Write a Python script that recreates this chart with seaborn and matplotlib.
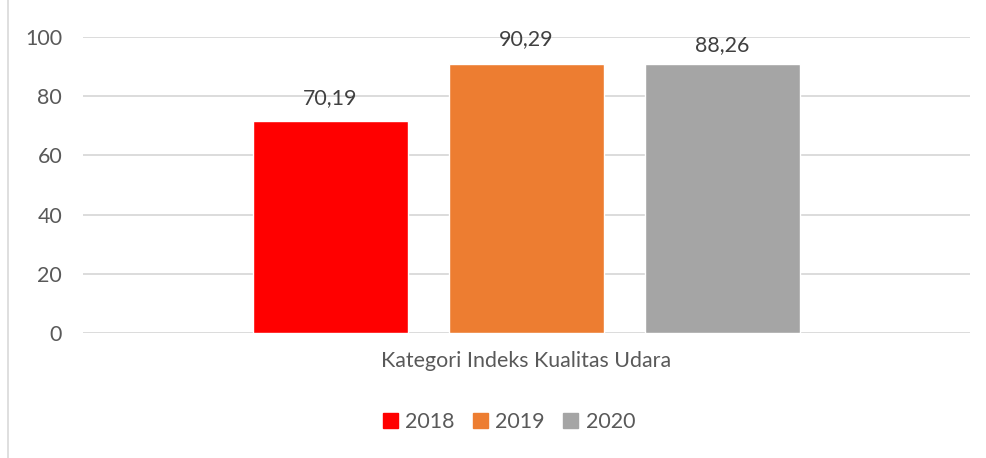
import matplotlib
matplotlib.use("Agg")
import matplotlib.pyplot as plt
import seaborn as sns
import pandas as pd
from matplotlib.lines import Line2D

# Data
years = ["2018", "2019", "2020"]
values = [70.19, 90.29, 88.26]          # labelled values
bar_heights = [71.5, 91.0, 91.0]        # heights as drawn in the reference
colors = ["#ff0000", "#ed7d31", "#a5a5a5"]
category = "Kategori Indeks Kualitas Udara"
yticks = [0, 20, 40, 60, 80, 100]

sns.set_theme(style="white")
plt.rcParams["font.family"] = ["Lato", "DejaVu Sans"]
FS = 15.4

fig = plt.figure(figsize=(9.86, 4.58), dpi=100)
ax = fig.add_axes([83/986, 1-333/458, (970-83)/986, (333-37)/458])

df = pd.DataFrame({"year": years, "height": bar_heights})
sns.barplot(data=df, x="year", y="height", hue="year", palette=colors,
            order=years, hue_order=years, width=155/196, dodge=False,
            legend=False, saturation=1, ax=ax, zorder=3)

ax.set_xlim(1-443.5/196, 1+443.5/196)
ax.set_ylim(0, 100)
ax.set_yticks(yticks)
ax.set_yticklabels([str(t) for t in yticks], fontsize=FS, color="#595959")
ax.yaxis.grid(True, color="#d9d9d9", linewidth=1.3, zorder=0)
ax.set_axisbelow(True)
ax.set_xticks([1])
ax.set_xticklabels([category], fontsize=FS, color="#595959")
ax.tick_params(axis="y", length=0, pad=15)
ax.tick_params(axis="x", length=0, pad=13)
ax.set_xlabel("")
ax.set_ylabel("")
for s in ax.spines.values():
    s.set_visible(False)

for i, v in enumerate(values):
    ax.annotate(f"{v:.2f}".replace(".", ","), xy=(i, v), xytext=(0, 19.5),
                textcoords="offset points", ha="center", va="center",
                fontsize=FS, color="#404040")

handles = [plt.Rectangle((0, 0), 1, 1, color=c) for c in colors]
fig.legend(handles, years, loc="center", bbox_to_anchor=(509/986, 1-422/458),
           ncol=3, frameon=False, fontsize=FS, handlelength=0.7,
           handleheight=0.7, handletextpad=0.35, columnspacing=0.85,
           labelcolor="#595959")

fig.add_artist(Line2D([8/986, 8/986], [0, 1], transform=fig.transFigure,
                      color="#d9d9d9", linewidth=1.2))

fig.savefig("out.png", dpi=100)
